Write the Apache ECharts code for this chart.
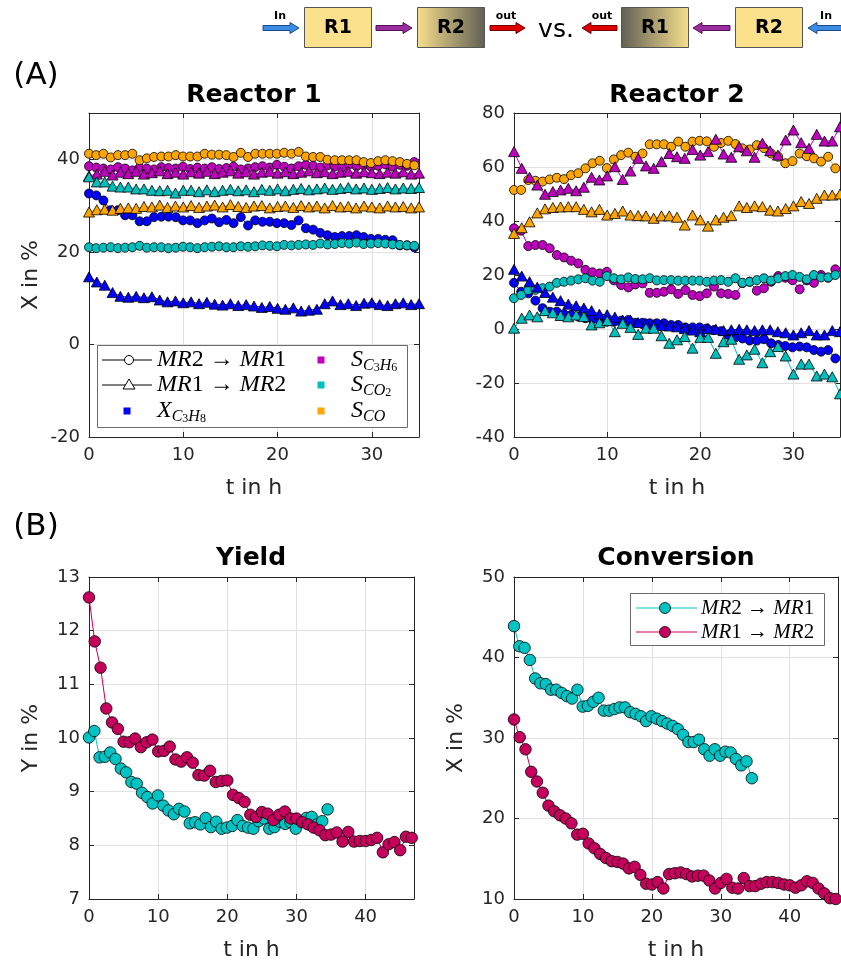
<!DOCTYPE html>
<html>
<head>
<meta charset="utf-8">
<script src="https://cdn.jsdelivr.net/npm/echarts@6.0.0/dist/echarts.min.js"></script>
<style>
html,body{margin:0;padding:0;background:#fff}
#chart{width:841px;height:962px}
</style>
</head>
<body>
<div id="chart"></div>
<script>
// ---- sampling times (h) ----
// MR2 -> MR1 run
const tA = [0,0.77,1.53,2.3,3.07,3.83,4.6,5.37,6.13,6.9,
  7.67,8.43,9.2,9.97,10.73,11.5,12.27,13.03,13.8,14.57,
  15.33,16.1,16.87,17.63,18.4,19.17,19.93,20.7,21.47,22.23,
  23,23.77,24.53,25.3,26.07,26.83,27.6,28.37,29.13,29.9,
  30.67,31.43,32.2,32.97,33.73,34.5];
// MR1 -> MR2 run
const tB = [0,0.83,1.67,2.5,3.33,4.17,5,5.83,6.67,7.5,
  8.33,9.17,10,10.83,11.67,12.5,13.33,14.17,15,15.83,
  16.67,17.5,18.33,19.17,20,20.83,21.67,22.5,23.33,24.17,
  25,25.83,26.67,27.5,28.33,29.17,30,30.83,31.67,32.5,
  33.33,34.17,35,35.83,36.67,37.5,38.33,39.17,40,40.83,
  41.67,42.5,43.33,44.17,45,45.83,46.67];
const tBshort = tB.slice(0, 43);

// ---- Reactor 1 (%), MR2 -> MR1 (circles) ----
const r1_X_c = [32.6,32.2,31.1,29,29,27.9,27.9,26.6,26.6,27.5,
  27.6,27.6,27.5,26.8,26.8,26.2,26.8,27.2,26.4,26.9,
  26.2,27.5,25.7,26.8,26.5,26.5,26.2,26.2,25.8,26.8,
  25.1,24.8,24.1,23.6,23.2,23.4,23.4,23.6,23.2,22.8,
  22.8,22.6,22.5,21.4,21.4,21];
const r1_C3H6_c = [38.5,38.2,38,37.8,38.3,38,37.6,38.2,38,37.8,
  38.3,38.1,38,38.4,37.9,38.2,38,38.3,37.9,38.1,
  38.4,37.8,38,38.3,38.5,38.2,38.8,38.4,38,38.5,
  38.8,38.6,38.2,38.7,38.4,38.3,38.9,38.5,38.7,38.4,
  38.6,38.9,38.4,38.8,38.6,39.4];
const r1_CO2_c = [21,20.8,20.9,21,20.8,20.9,21,21.3,20.9,21,
  21,20.8,20.9,21.1,21,20.8,21,21.1,21.2,21,
  21,21.2,21.1,21.2,21.4,21.3,21.2,21.5,21.4,21.5,
  21.6,21.5,21.8,21.6,21.7,21.9,21.8,22,21.7,21.8,
  21.9,21.8,21.6,21.5,21.4,21.3];
const r1_CO_c = [41.2,40.9,41.2,40.4,40.9,40.9,41.2,39.8,40.2,40.5,
  40.6,40.6,40.9,40.6,40.6,40.6,41.2,41,41,40.9,
  40.5,41.4,40.5,41.2,41.2,41.2,41.2,41.4,41.2,41.6,
  40.6,40.5,40.5,39.9,39.8,39.8,39.8,39.8,39.4,39.2,
  39.6,39.8,39.6,39.4,39,38.7];
// ---- Reactor 1 (%), MR1 -> MR2 (triangles) ----
const r1_X_t = [14.6,13.5,12.8,11.2,10.4,10.2,10.4,10.1,10.3,9.6,
  9.2,9.4,9,9.2,8.8,9.1,8.7,8.5,8.8,8.4,
  8.6,8.3,8,8.2,7.8,7.6,7.9,7.2,7.4,7.6,
  8.8,9.4,8.6,8.8,8.4,8.9,9,8.6,8.4,8.8,
  9,8.6,8.8];
const r1_C3H6_t = [36.4,36.8,37.4,36.6,37.2,36.9,37.4,36.8,37.1,37.5,
  36.9,37.2,36.8,37.3,37,37.4,36.9,37.2,37.5,37,
  37.3,36.8,37.2,37.4,37,37.3,36.9,37.2,37.5,37.1,
  37.3,36.9,37.2,37.4,37,37.3,37.1,36.9,37.2,37,
  37.3,36.8,37];
const r1_CO2_t = [36.2,35.1,35.1,34.2,34,34,33.6,33.6,33.3,33.2,
  33.3,32.7,33.3,33.3,33,33.4,33,33.3,33.5,33.2,
  33.4,33,33.5,33.3,33.6,33.2,33.5,33.7,33.4,33.6,
  33.8,33.5,33.7,33.9,33.6,33.8,33.5,33.7,33.9,33.6,
  33.8,33.7,33.9];
const r1_CO_t = [28.6,29.1,29.2,29,29.4,29.5,29.4,29.8,29.7,30.1,
  29.6,29.9,29.7,30,29.6,29.9,30.1,29.7,30.2,29.8,
  29.6,29.9,30,29.5,29.8,29.9,29.6,30,29.7,29.9,
  29.5,30,29.7,29.8,29.5,29.9,29.7,29.5,29.9,29.7,
  29.8,29.5,29.7];

// ---- Reactor 2 (%), MR2 -> MR1 (circles) ----
const r2_X_c = [17.1,13.8,13.2,10.5,7.7,6.4,6.4,5.5,5.2,4.6,
  4,3.6,3.3,2.7,2.7,3.1,3.3,2.3,2.3,2.1,
  2.1,2.1,1.5,1.5,0.6,0.6,0.6,0.2,-0.4,-0.8,
  -2.2,-3.1,-3.5,-4.3,-4.3,-3.8,-5.3,-5.9,-6.3,-6.8,
  -6.5,-6.8,-7.8,-8.4,-7.8,-10.9];
const r2_C3H6_c = [37.3,36.4,30.7,31.1,31.1,29.9,27.4,26.5,25.3,24.3,
  21.9,21,20.6,21.2,18,16.3,15.4,16.5,16.9,13.4,
  13.4,13.8,14.7,13,14.4,12.6,12.2,13.2,15.7,13.2,
  13,12.6,17,17.5,14.2,15.1,17.5,19.6,19,18.1,
  14.7,18,17.1,20,19,22.1];
const r2_CO2_c = [11.4,12.6,14.4,14.5,15.1,15.7,17.1,17.5,17.9,18.4,
  18.8,17.9,17.5,19.6,18.8,18.4,19.1,18.5,18.4,18.8,
  18,18.1,18.1,17.9,17.9,17.9,17.9,17.5,17.9,18.1,
  17.5,18.8,17.1,17.5,18.1,18.8,17.9,18.8,19.6,20,
  19.3,18.4,20,19.1,19.1,20];
const r2_CO_c = [51.5,51.5,55.2,54.9,54.6,55.4,56,55.5,57,57.7,
  59.5,61.4,62.3,59.6,62.8,64.4,65.3,63.8,65,68.4,
  68.4,68.4,67.5,69.4,67.5,69.4,69.7,69.5,67.5,68.9,
  69.7,68.5,66.9,66.5,68.1,67,65,63.8,61.4,62.2,
  65,64,63.2,62,63.8,59.5];
// ---- Reactor 2 (%), MR1 -> MR2 (triangles) ----
const r2_X_t = [22.1,19.6,17.5,15.5,13.5,11.8,10.5,9.2,8.6,7.8,
  6.8,5.5,5.3,4.4,3.3,3.3,2.4,2.1,1.6,1.3,
  1.1,0.8,0.2,-0.4,-1,0.2,-0.1,-0.6,-0.3,-0.1,
  -0.3,-0.6,-0.3,-0.3,-1,-1.4,-2.2,-1.4,-0.6,-2.2,
  -2.2,-0.6,-1];
const r2_C3H6_t = [65.7,59.5,56.2,53.3,49.9,50.9,51.5,52.1,51.2,52.5,
  56.2,55.2,56.7,60.1,55.4,58.5,63.2,60.4,59.5,62,
  65,63.8,63.2,66.5,64.4,65.7,70.3,64.8,63.6,67.5,
  66,63.6,68.8,66,64.4,70,73.7,69,66.9,72.1,
  69.6,69.6,74.9];
const r2_CO2_t = [0.3,4,5.2,4.5,6.8,6,5,4.5,5.2,4.6,
  1.5,2.3,3.1,-1,2.1,0.6,-2,0.3,0.3,-2.5,
  -5.3,-4,-2.8,-7.1,-3.1,-3.1,-9,-4.7,-3.8,-11.2,
  -9.6,-7.5,-12.5,-8.4,-6.5,-10,-16.7,-13,-13,-17.4,
  -16.7,-17.7,-24];
const r2_CO_t = [35.4,37.5,39.7,43,44.5,45,45.2,45.3,45.3,44.3,
  43.4,44.3,42.2,42.8,43.7,42.2,42,41.9,41,41.9,
  41.9,41.4,38.5,42.2,40.4,38.1,40.4,41.4,42,45.6,
  45,45.6,45.3,44,43.7,44.6,45.6,47.2,46.5,48.4,
  49.6,49.6,50];

// ---- Yield Y (%) ----
const yield_MR21 = [10.01,10.13,9.64,9.65,9.73,9.61,9.43,9.36,9.18,9.15,
  8.98,8.9,8.78,8.93,8.74,8.65,8.58,8.68,8.63,8.41,
  8.43,8.39,8.51,8.34,8.44,8.31,8.33,8.36,8.47,8.36,
  8.33,8.31,8.45,8.5,8.31,8.34,8.44,8.4,8.43,8.31,
  8.45,8.51,8.53,8.39,8.45,8.67];
const yield_MR12 = [12.62,11.8,11.31,10.55,10.29,10.17,9.93,9.92,9.99,9.83,
  9.92,9.97,9.75,9.76,9.84,9.6,9.56,9.64,9.54,9.31,
  9.3,9.39,9.18,9.2,9.21,8.94,8.88,8.81,8.57,8.53,
  8.62,8.59,8.47,8.57,8.63,8.5,8.5,8.43,8.39,8.33,
  8.28,8.19,8.2,8.24,8.07,8.25,8.07,8.08,8.08,8.1,
  8.14,7.87,8.02,8.06,7.91,8.16,8.14];

// ---- Conversion X (%) ----
const conv_MR21 = [43.9,41.4,41.2,39.7,37.4,36.8,36.7,36,36,35.6,
  35.2,34.9,36,33.9,34,34.5,35,33.4,33.4,33.6,
  33.8,33.8,33.2,33,32.7,32.1,32.7,32.4,32.1,31.8,
  31.5,31.1,30.4,29.5,29.5,29.8,28.6,27.8,28.6,27.8,
  28.3,28.2,27.4,26.6,27.1,25];
const conv_MR12 = [32.3,30.1,28.6,25.8,24.6,23.2,21.6,20.9,20.4,20,
  19.4,18,18.1,16.9,16.3,15.6,15.1,14.7,14.6,14.4,
  13.8,14,13,11.9,11.8,12.1,11.3,13.1,13.2,13.3,
  13.1,12.8,12.9,12.9,12.3,11.3,12,12.5,11.4,11.3,
  12.6,11.6,11.6,11.9,12.1,12.1,12,11.8,11.7,11.4,
  11.7,12.2,12,11.3,10.7,10.1,10];

// ---- axis ranges [min, max, step] ----
const r1X = [0, 35, 10], r1Y = [-20, 50, 20];
const r2X = [0, 35, 10], r2Y = [-40, 80, 20];
const ylX = [0, 47, 10], ylY = [7, 13, 1];
const cvX = [0, 47, 10], cvY = [10, 50, 10];

const C = { X: '#0000ff', C3H6: '#bf00bf', CO2: '#00bfbf', CO: '#ffa500',
            mr21: '#00c4c4', mr12: '#c6005c' };
const INK = '#262626';
const SANS = '"DejaVu Sans", sans-serif';
const SERIF = '"Liberation Serif", "DejaVu Serif", serif';

const pairs = (t, v) => v.map((y, i) => [t[i], y]);

const grids = [
  { left: 89, top: 113, width: 330, height: 324 },
  { left: 514, top: 113, width: 326, height: 324 },
  { left: 89, top: 577, width: 325, height: 324 },
  { left: 514, top: 577, width: 324, height: 324 }
];

const xAxes = [], yAxes = [];
function addAxes(g, xr, yr, yName, showYMax) {
  const tick = { show: true, inside: true, length: 5, lineStyle: { color: INK, width: 1 } };
  const line = { show: true, onZero: false, lineStyle: { color: INK, width: 1 } };
  const lab = { color: INK, fontSize: 18, fontFamily: SANS };
  xAxes.push({ type: 'value', gridIndex: g, position: 'bottom', min: xr[0], max: xr[1], interval: xr[2],
    axisLine: line, axisTick: tick,
    axisLabel: Object.assign({ margin: 9, showMaxLabel: false }, lab),
    splitLine: { show: true, lineStyle: { color: '#e2e2e2', width: 1 } },
    name: 't in h', nameLocation: 'middle', nameGap: 40,
    nameTextStyle: { color: INK, fontSize: 22, fontFamily: SANS } });
  xAxes.push({ type: 'value', gridIndex: g, position: 'top', min: xr[0], max: xr[1], interval: xr[2],
    axisLine: line, axisTick: tick, axisLabel: { show: false }, splitLine: { show: false } });
  const yl = { type: 'value', gridIndex: g, position: 'left', min: yr[0], max: yr[1], interval: yr[2],
    axisLine: line, axisTick: tick,
    axisLabel: Object.assign({ margin: 9, showMaxLabel: showYMax }, lab),
    splitLine: { show: true, lineStyle: { color: '#e2e2e2', width: 1 } } };
  if (yName) Object.assign(yl, { name: yName, nameLocation: 'middle', nameGap: 47,
    nameTextStyle: { color: INK, fontSize: 22, fontFamily: SANS } });
  yAxes.push(yl);
  yAxes.push({ type: 'value', gridIndex: g, position: 'right', min: yr[0], max: yr[1], interval: yr[2],
    axisLine: line, axisTick: tick, axisLabel: { show: false }, splitLine: { show: false } });
}
addAxes(0, r1X, r1Y, 'X in %', false);
addAxes(1, r2X, r2Y, null, true);
addAxes(2, ylX, ylY, 'Y in %', true);
addAxes(3, cvX, cvY, 'X in %', true);

function S(g, t, v, color, symbol, size) {
  return { type: 'line', xAxisIndex: 2 * g, yAxisIndex: 2 * g, data: pairs(t, v),
    symbol: symbol, symbolSize: size, showSymbol: true, clip: true, silent: true,
    animation: false,
    lineStyle: { color: color, width: 1 },
    itemStyle: { color: color, borderColor: '#000', borderWidth: 0.8 } };
}
const CIR = 9, TRI = [11, 10], BIG = 11.5;
const series = [
  // Reactor 1
  S(0, tA, r1_X_c, C.X, 'circle', CIR),
  S(0, tA, r1_C3H6_c, C.C3H6, 'circle', CIR),
  S(0, tA, r1_CO2_c, C.CO2, 'circle', CIR),
  S(0, tA, r1_CO_c, C.CO, 'circle', CIR),
  S(0, tBshort, r1_X_t, C.X, 'triangle', TRI),
  S(0, tBshort, r1_C3H6_t, C.C3H6, 'triangle', TRI),
  S(0, tBshort, r1_CO2_t, C.CO2, 'triangle', TRI),
  S(0, tBshort, r1_CO_t, C.CO, 'triangle', TRI),
  // Reactor 2
  S(1, tA, r2_X_c, C.X, 'circle', CIR),
  S(1, tA, r2_C3H6_c, C.C3H6, 'circle', CIR),
  S(1, tA, r2_CO2_c, C.CO2, 'circle', CIR),
  S(1, tA, r2_CO_c, C.CO, 'circle', CIR),
  S(1, tBshort, r2_X_t, C.X, 'triangle', TRI),
  S(1, tBshort, r2_C3H6_t, C.C3H6, 'triangle', TRI),
  S(1, tBshort, r2_CO2_t, C.CO2, 'triangle', TRI),
  S(1, tBshort, r2_CO_t, C.CO, 'triangle', TRI),
  // Yield
  S(2, tA, yield_MR21, C.mr21, 'circle', BIG),
  S(2, tB, yield_MR12, C.mr12, 'circle', BIG),
  // Conversion
  S(3, tA, conv_MR21, C.mr21, 'circle', BIG),
  S(3, tB, conv_MR12, C.mr12, 'circle', BIG)
];

// ---- annotation graphics ----
const G = [];
function txt(x, y, text, font, extra) {
  G.push(Object.assign({ type: 'text', x: x, y: y, z: 60,
    style: { text: text, font: font, fill: '#000', textAlign: 'center', align: 'center',
             textVerticalAlign: 'middle', verticalAlign: 'middle' } }, extra || {}));
}
// panel titles and labels
txt(254, 95, 'Reactor 1', 'bold 25px ' + SANS);
txt(677, 95, 'Reactor 2', 'bold 25px ' + SANS);
txt(251, 558, 'Yield', 'bold 25px ' + SANS);
txt(676, 558, 'Conversion', 'bold 25px ' + SANS);
txt(36, 76, '(A)', '31px ' + SANS);
txt(36, 527, '(B)', '31px ' + SANS);

// Reactor 1 legend
G.push({ type: 'rect', z: 50, shape: { x: 97.5, y: 345.5, width: 310, height: 82 },
  style: { fill: '#fff', stroke: '#6b6b6b', lineWidth: 1 } });
const lgRows = [360, 385, 411];
G.push({ type: 'line', z: 55, shape: { x1: 102, y1: lgRows[0], x2: 152, y2: lgRows[0] }, style: { stroke: '#000', lineWidth: 1 } });
G.push({ type: 'circle', z: 56, shape: { cx: 129, cy: lgRows[0], r: 4.5 }, style: { fill: '#fff', stroke: '#000', lineWidth: 1 } });
G.push({ type: 'line', z: 55, shape: { x1: 102, y1: lgRows[1], x2: 152, y2: lgRows[1] }, style: { stroke: '#000', lineWidth: 1 } });
G.push({ type: 'polygon', z: 56, shape: { points: [[129, lgRows[1] - 6], [135, lgRows[1] + 4], [123, lgRows[1] + 4]] },
  style: { fill: '#fff', stroke: '#000', lineWidth: 1 } });
function sq(cx, cy, color) {
  G.push({ type: 'rect', z: 56, shape: { x: cx - 3.5, y: cy - 3.5, width: 7, height: 7 }, style: { fill: color } });
}
sq(127, lgRows[2], C.X); sq(321, lgRows[0], C.C3H6); sq(321, lgRows[1], C.CO2); sq(321, lgRows[2], C.CO);

const mathRich = {
  i: { fontFamily: SERIF, fontStyle: 'italic', fontSize: 24, lineHeight: 28, verticalAlign: 'middle' },
  n: { fontFamily: SERIF, fontSize: 24, lineHeight: 28, verticalAlign: 'middle' },
  si: { fontFamily: SERIF, fontStyle: 'italic', fontSize: 16, lineHeight: 15, verticalAlign: 'bottom' },
  sn: { fontFamily: SERIF, fontSize: 12, lineHeight: 11, verticalAlign: 'bottom' }
};
function mtxt(x, y, text, rich, size) {
  G.push({ type: 'text', x: x, y: y, z: 60,
    style: { text: text, rich: rich, textAlign: 'left', align: 'left',
             textVerticalAlign: 'middle', verticalAlign: 'middle', fill: '#000', fontSize: size } });
}
mtxt(157, lgRows[0], '{i|MR}{n|2 → }{i|MR}{n|1}', mathRich);
mtxt(157, lgRows[1], '{i|MR}{n|1 → }{i|MR}{n|2}', mathRich);
mtxt(157, lgRows[2], '{i|X}{si|C}{sn|3}{si|H}{sn|8}', mathRich);
mtxt(351, lgRows[0], '{i|S}{si|C}{sn|3}{si|H}{sn|6}', mathRich);
mtxt(351, lgRows[1], '{i|S}{si|CO}{sn|2}', mathRich);
mtxt(351, lgRows[2], '{i|S}{si|CO}', mathRich);

// Conversion legend
G.push({ type: 'rect', z: 50, shape: { x: 630.5, y: 593.5, width: 194, height: 52 },
  style: { fill: '#fff', stroke: '#6b6b6b', lineWidth: 1 } });
const cvRows = [608, 632];
const smallRich = {
  i: { fontFamily: SERIF, fontStyle: 'italic', fontSize: 21, lineHeight: 24, verticalAlign: 'middle' },
  n: { fontFamily: SERIF, fontSize: 21, lineHeight: 24, verticalAlign: 'middle' }
};
[[cvRows[0], C.mr21, '{i|MR}{n|2 → }{i|MR}{n|1}'], [cvRows[1], C.mr12, '{i|MR}{n|1 → }{i|MR}{n|2}']].forEach(r => {
  G.push({ type: 'line', z: 55, shape: { x1: 636, y1: r[0], x2: 697, y2: r[0] }, style: { stroke: r[1], lineWidth: 1 } });
  G.push({ type: 'circle', z: 56, shape: { cx: 665, cy: r[0], r: 5.5 }, style: { fill: r[1], stroke: '#000', lineWidth: 0.8 } });
  mtxt(701, r[0], r[2], smallRich);
});

// reactor sequence sketch
function arrow(x1, x2, y, dir, fill, stroke) {
  const h = 9, s = 2.5, w = 5.5;
  const pts = dir > 0
    ? [[x1, y - s], [x2 - h, y - s], [x2 - h, y - w], [x2, y], [x2 - h, y + w], [x2 - h, y + s], [x1, y + s]]
    : [[x2, y - s], [x1 + h, y - s], [x1 + h, y - w], [x1, y], [x1 + h, y + w], [x1 + h, y + s], [x2, y + s]];
  G.push({ type: 'polygon', z: 60, shape: { points: pts }, style: { fill: fill, stroke: stroke, lineWidth: 1 } });
}
const YEL = '#fbe18b';
function box(x, label, fill) {
  G.push({ type: 'rect', z: 60, shape: { x: x + 0.5, y: 7.5, width: 67, height: 40 },
    style: { fill: fill, stroke: '#555', lineWidth: 1 } });
  txt(x + 34, 28, label, 'bold 19px ' + SANS, { z: 61 });
}
const gradR = { type: 'linear', x: 0, y: 0, x2: 1, y2: 0,
  colorStops: [{ offset: 0, color: '#f6df8c' }, { offset: 1, color: '#625f55' }] };
const gradL = { type: 'linear', x: 0, y: 0, x2: 1, y2: 0,
  colorStops: [{ offset: 0, color: '#625f55' }, { offset: 1, color: '#f6df8c' }] };
const BLUE = ['#3b8de4', '#1c4a86'], PURP = ['#9a2c9e', '#4f0f55'], RED = ['#e00000', '#6a0000'];
arrow(263, 299, 28, 1, BLUE[0], BLUE[1]);
txt(280, 16, 'In', 'bold 11px ' + SANS);
box(304, 'R1', YEL);
arrow(376, 412, 28, 1, PURP[0], PURP[1]);
box(417, 'R2', gradR);
arrow(490, 525, 28, 1, RED[0], RED[1]);
txt(506, 16, 'out', 'bold 11px ' + SANS);
txt(556, 30, 'vs.', '25px ' + SANS);
arrow(582, 617, 28, -1, RED[0], RED[1]);
txt(602, 16, 'out', 'bold 11px ' + SANS);
box(621, 'R1', gradL);
arrow(693, 730, 28, -1, PURP[0], PURP[1]);
box(735, 'R2', YEL);
arrow(808, 845, 28, -1, BLUE[0], BLUE[1]);
txt(826, 16, 'In', 'bold 11px ' + SANS);

const chart = echarts.init(document.getElementById('chart'), null, { renderer: 'canvas' });
chart.setOption({
  backgroundColor: '#fff',
  animation: false,
  grid: grids,
  xAxis: xAxes,
  yAxis: yAxes,
  series: series,
  graphic: { elements: G }
});
</script>
</body>
</html>
